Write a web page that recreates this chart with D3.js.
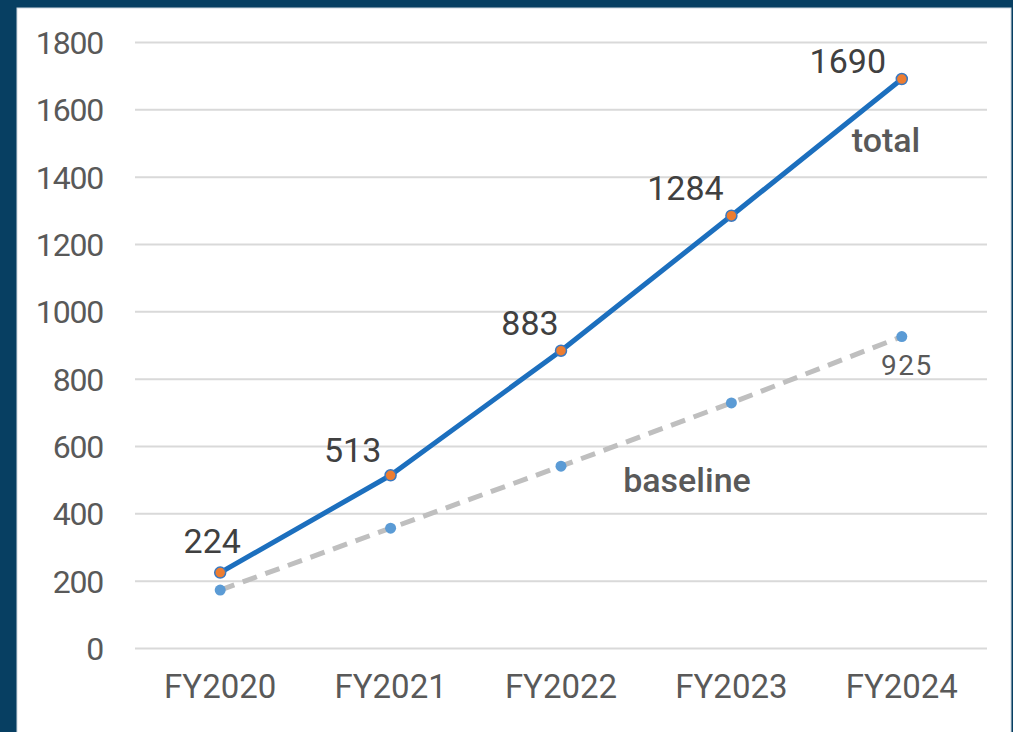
<!DOCTYPE html>
<html>
<head>
<meta charset="utf-8">
<script src="https://cdn.jsdelivr.net/npm/d3@7"></script>
<style>
  html, body { margin: 0; padding: 0; background: #073f62; }
  svg { display: block; }
</style>
</head>
<body>
<svg id="chart" width="1013" height="732"></svg>
<script>
// Fiscal years along the x axis
const categories = ["FY2020", "FY2021", "FY2022", "FY2023", "FY2024"];
// Series values
const totalValues = [224, 513, 883, 1284, 1690];
const baselineValues = [172, 356, 540, 728, 925];
// Y axis ticks
const yTicks = [0, 200, 400, 600, 800, 1000, 1200, 1400, 1600, 1800];

const svg = d3.select("#chart");
const W = 1013, H = 732;

// Navy frame with white panel
svg.append("rect").attr("width", W).attr("height", H).attr("fill", "#073f62");
svg.append("rect")
  .attr("x", 17).attr("y", 8).attr("width", 994).attr("height", H)
  .attr("fill", "#ffffff").attr("stroke", "#cfd8e0").attr("stroke-width", 1);

const plot = { left: 135, right: 987, top: 42, bottom: 648 };

const x = d3.scaleBand().domain(categories).range([plot.left, plot.right]).padding(0);
const cx = d => x(d) + x.bandwidth() / 2;
const y = d3.scaleLinear().domain([0, 1800]).range([plot.bottom, plot.top]);

const font = "Roboto, 'Open Sans', sans-serif";

// Horizontal gridlines and y labels via d3 axis
const yAxis = d3.axisLeft(y)
  .tickValues(yTicks)
  .tickFormat(d3.format("d"))
  .tickSize(-(plot.right - plot.left))
  .tickPadding(32);
const gy = svg.append("g").attr("transform", `translate(${plot.left},0)`).call(yAxis);
gy.select(".domain").remove();
gy.selectAll(".tick line").attr("stroke", "#d9d9d9").attr("stroke-width", 2);
gy.selectAll(".tick text")
  .attr("fill", "#595959")
  .style("font-family", font)
  .style("font-size", "32px")
  .style("letter-spacing", "-1.2px")
  .attr("dy", "0.36em");

// X axis labels
const xAxis = d3.axisBottom(x).tickSize(0).tickPadding(38);
const gx = svg.append("g").attr("transform", `translate(0,${plot.bottom})`).call(xAxis);
gx.select(".domain").remove();
gx.selectAll(".tick text")
  .attr("fill", "#595959")
  .style("font-family", font)
  .style("font-size", "33px")
  .attr("dy", "0.36em");

// Baseline series (dashed grey)
const baseData = categories.map((c, i) => ({ c, v: baselineValues[i] }));
const totalData = categories.map((c, i) => ({ c, v: totalValues[i] }));
const line = d3.line().x(d => cx(d.c)).y(d => y(d.v));

svg.append("path").datum(baseData)
  .attr("d", line)
  .attr("fill", "none")
  .attr("stroke", "#bfbfbf")
  .attr("stroke-width", 5)
  .attr("stroke-dasharray", "15,9");

svg.selectAll(".base-pt").data(baseData).enter().append("circle")
  .attr("class", "base-pt")
  .attr("cx", d => cx(d.c)).attr("cy", d => y(d.v))
  .attr("r", 5.5)
  .attr("fill", "#5b9bd5");

// Total series (solid blue)
svg.append("path").datum(totalData)
  .attr("d", line)
  .attr("fill", "none")
  .attr("stroke", "#1c6fbe")
  .attr("stroke-width", 5)
  .attr("stroke-linejoin", "round");

svg.selectAll(".tot-pt").data(totalData).enter().append("circle")
  .attr("class", "tot-pt")
  .attr("cx", d => cx(d.c)).attr("cy", d => y(d.v))
  .attr("r", 5.5)
  .attr("fill", "#ed7d31")
  .attr("stroke", "#3a78c0")
  .attr("stroke-width", 1.5);

// Value labels on the total series (above-left of each point)
const totalLabelOffsets = [[-8, -20], [-38, -13], [-31, -16], [-46, -16], [-54, -6]];
svg.selectAll(".tot-lbl").data(totalData).enter().append("text")
  .attr("class", "tot-lbl")
  .attr("x", (d, i) => cx(d.c) + totalLabelOffsets[i][0])
  .attr("y", (d, i) => y(d.v) + totalLabelOffsets[i][1])
  .attr("text-anchor", "middle")
  .attr("fill", "#404040")
  .style("font-family", font)
  .style("font-size", "34px")
  .text(d => d.v);

// Value label on last baseline point
const lastBase = baseData[baseData.length - 1];
svg.append("text")
  .attr("x", cx(lastBase.c) + 5)
  .attr("y", y(lastBase.v) + 38)
  .attr("text-anchor", "middle")
  .attr("fill", "#595959")
  .style("font-family", font)
  .style("font-size", "28px")
  .style("letter-spacing", "1.5px")
  .text(lastBase.v);

// Series names
svg.append("text")
  .attr("x", 886).attr("y", 152)
  .attr("text-anchor", "middle")
  .attr("fill", "#595959")
  .style("font-family", font)
  .style("font-weight", 500)
  .style("font-size", "34px")
  .text("total");

svg.append("text")
  .attr("x", 687).attr("y", 492)
  .attr("text-anchor", "middle")
  .attr("fill", "#595959")
  .style("font-family", font)
  .style("font-weight", 500)
  .style("font-size", "34px")
  .text("baseline");
</script>
</body>
</html>
